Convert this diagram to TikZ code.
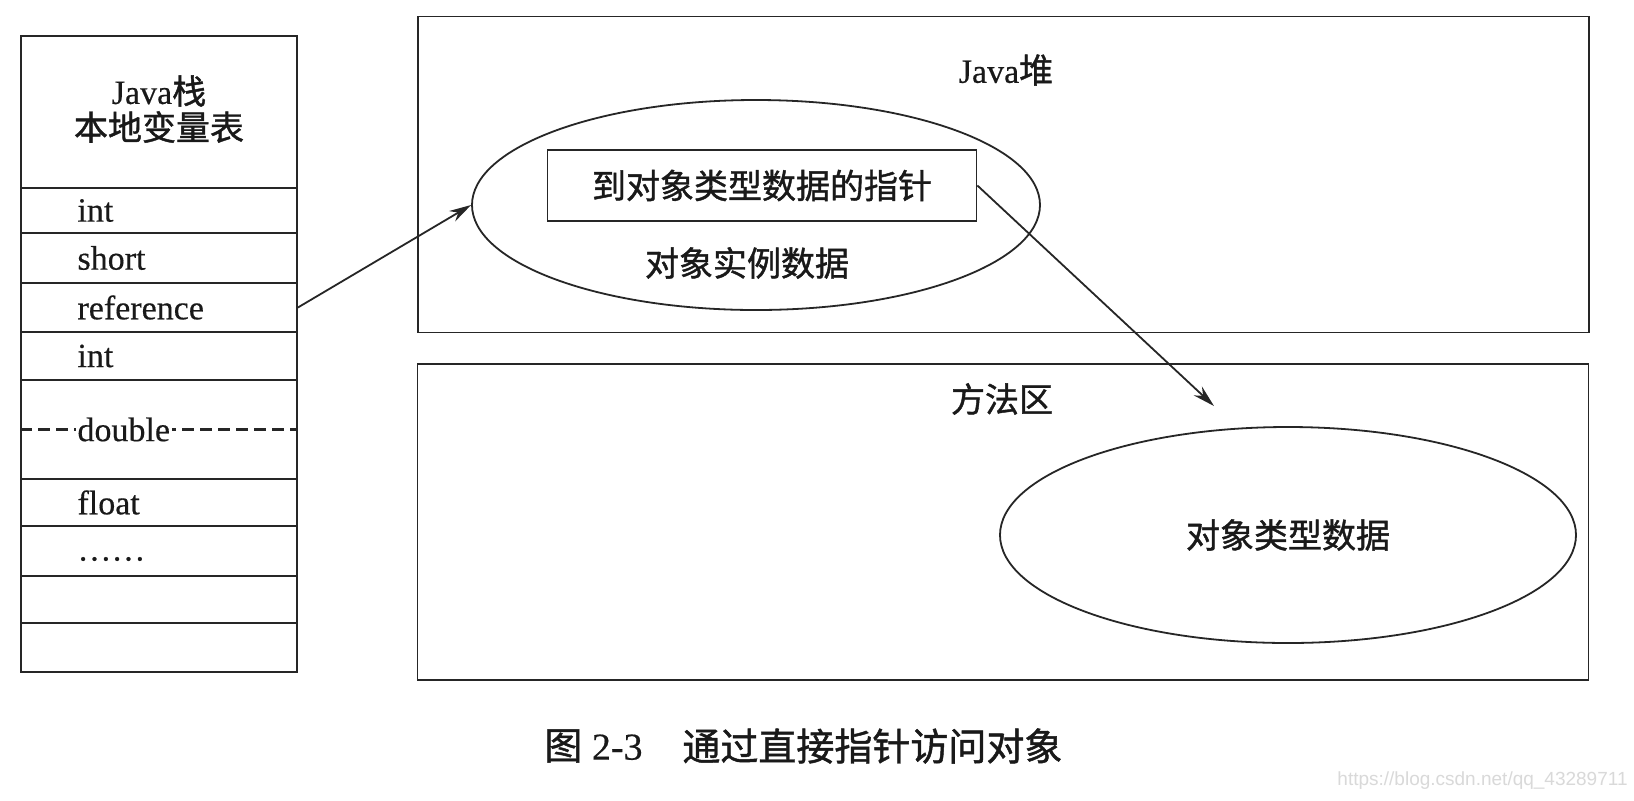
\documentclass[tikz,border=0pt]{standalone}
\usepackage{fontspec}
\setmainfont[FakeBold=0.4]{Liberation Serif}
\setsansfont{Liberation Sans}
\newfontfamily\cjk[FakeBold=1.2]{Noto Sans CJK SC}
\usetikzlibrary{arrows.meta,shapes.geometric}
\tikzset{
    frame/.style={draw=black!85,line width=0.9pt},
    cell/.style={frame,minimum width=138pt,inner sep=0pt},
    slot/.style={anchor=west,inner sep=0pt},
    region/.style={frame,minimum width=585.5pt,minimum height=158pt,inner sep=0pt},
    blob/.style={frame,ellipse,inner sep=0pt},
    tag/.style={inner sep=0pt},
    pointer/.style={-{Stealth[length=11pt,width=6pt]},draw=black!85,line width=0.9pt}
}

\begin{document}
\begin{tikzpicture}[x=0.5pt,y=-0.5pt,font=\fontsize{17}{20}\selectfont,text=black!90]
\useasboundingbox[fill=white] (0,0) rectangle (1634,800);
\node[cell,minimum height=76pt] (head) at (159,112) {};
\node[tag] (stacktitle) at (159,91) {Java{\cjk 栈}};
\node[tag] (stacksub) at (159,127) {\cjk 本地变量表};
\foreach \name/\top/\bot in {r1/188/233,r2/233/283,r3/283/332,r4/332/380,r5/380/479,r6/479/526,r7/526/576,r8/576/623,r9/623/672}
  \node[cell,minimum height={(\bot-\top)*0.5pt}] (\name) at (159,{(\top+\bot)/2}) {};
\foreach \row/\txt in {r1/int,r2/short,r3/reference,r4/int,r6/float}
  \node[slot] (\row txt) at ([xshift=28.5pt]\row.west) {\txt};
\node[slot] (r7txt) at ([xshift=28.5pt,yshift=-4pt]r7.west) {\ldots\ldots};
\draw[frame,line width=1.1pt,dash pattern=on 6pt off 3pt] (r5.west) -- (r5.east);
\node[slot,fill=white,inner xsep=1pt] (r5txt) at ([xshift=27.5pt]r5.west) {double};

\node[region] (heap) at (1003.5,174.5) {};
\node[tag] (heaptitle) at (1006,70) {Java{\cjk 堆}};
\node[blob,minimum width=284pt,minimum height=105pt] (inst) at (756,205) {};
\node[frame,minimum width=214.5pt,minimum height=35.5pt,inner sep=0pt] (ptr) at (762,185.5) {\cjk 到对象类型数据的指针};
\node[tag] (insttxt) at (747,263) {\cjk 对象实例数据};

\node[region] (method) at (1003,522) {};
\node[tag] (methodtitle) at (1002,399) {\cjk 方法区};
\node[blob,minimum width=288pt,minimum height=108pt] (klass) at (1288,535) {\cjk 对象类型数据};
\coordinate (tip) at (1214,406);

\draw[pointer] (r3.east) -- (inst.west);
\draw[pointer] (ptr.east) -- (tip);

\node[tag,anchor=west,font=\fontsize{19}{22}\selectfont] (fig) at (544,746) {{\cjk 图} 2-3};
\node[tag,anchor=west,font=\fontsize{19}{22}\selectfont\cjk] (caption) at (682,746) {通过直接指针访问对象};
\node[tag,anchor=east,font=\sffamily\fontsize{9.5}{11}\selectfont,text=black!15] (mark) at (1628,781) {https://blog.csdn.net/qq\_43289711};
\end{tikzpicture}
\end{document}
